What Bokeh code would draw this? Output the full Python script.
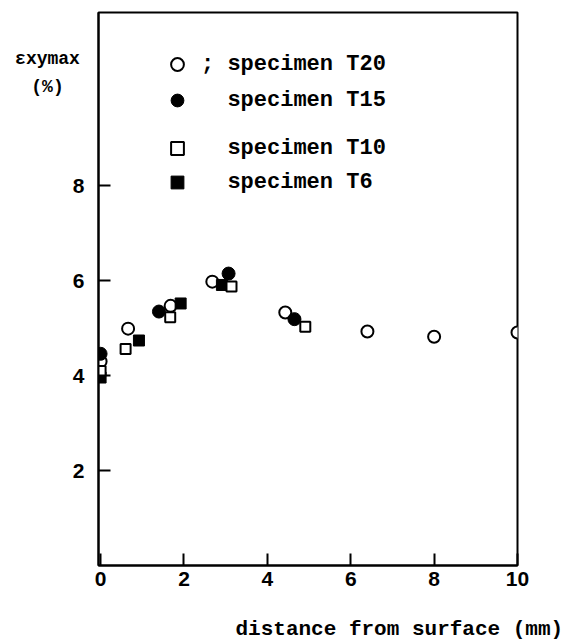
from bokeh.plotting import figure
from bokeh.models import Label, Legend, LegendItem, FixedTicker, Range1d
from bokeh.embed import file_html
from bokeh.resources import INLINE

# ---- data ----
t20_x = [0.0, 0.66, 1.68, 2.68, 4.43, 6.40, 8.0, 10.0]
t20_y = [4.30, 4.99, 5.47, 5.98, 5.33, 4.93, 4.82, 4.91]
t15_x = [0.0, 1.40, 3.07, 4.65]
t15_y = [4.46, 5.35, 6.15, 5.19]
t10_x = [0.0, 0.60, 1.67, 3.14, 4.91]
t10_y = [4.10, 4.56, 5.23, 5.88, 5.03]
t6_x = [0.0, 0.92, 1.92, 2.91]
t6_y = [3.96, 4.74, 5.52, 5.91]

legend_labels = ["; specimen T20", "\u00a0\u00a0specimen T15",
                 "\u00a0\u00a0specimen T10", "\u00a0\u00a0specimen T6"]
x_ticks = [0, 2, 4, 6, 8, 10]
y_ticks = [2, 4, 6, 8]
x_title = "distance from surface (mm)"
y_title = "\u03b5xymax\n(%)"

MONO = "Liberation Mono"

p = figure(width=567, height=640, output_backend="svg", toolbar_location=None,
           x_range=Range1d(-0.05, 10.0), y_range=Range1d(0, 11.65),
           min_border_left=98, min_border_right=50, min_border_top=12,
           min_border_bottom=75)
p.title.visible = False
p.xgrid.visible = False
p.ygrid.visible = False
p.outline_line_color = "black"
p.outline_line_width = 2
p.background_fill_color = "white"
p.border_fill_color = "white"

for ax, ticks, standoff in ((p.xaxis[0], x_ticks, 6), (p.yaxis[0], y_ticks, 14)):
    ax.ticker = FixedTicker(ticks=ticks, minor_ticks=[])
    ax.axis_line_width = 2
    ax.axis_line_color = "black"
    ax.major_tick_line_width = 2
    ax.major_tick_line_color = "black"
    ax.major_tick_in = 12
    ax.major_tick_out = 0
    ax.minor_tick_line_color = None
    ax.major_label_text_font = "Liberation Sans"
    ax.major_label_text_font_style = "bold"
    ax.major_label_text_font_size = "21px"
    ax.major_label_text_color = "black"
    ax.major_label_standoff = standoff

r20 = p.scatter(t20_x, t20_y, marker="circle", size=12, fill_color="white",
                line_color="black", line_width=2)
r15 = p.scatter(t15_x, t15_y, marker="circle", size=13, fill_color="black",
                line_color="black", line_width=1)
r6 = p.scatter(t6_x, t6_y, marker="square", size=11, fill_color="black",
               line_color="black", line_width=1)
r10 = p.scatter(t10_x, t10_y, marker="square", size=10, fill_color="white",
                line_color="black", line_width=2)

renderers = [r20, r15, r10, r6]
row_bottoms = [485, 449, 401, 367]
for lab, r, yb in zip(legend_labels, renderers, row_bottoms):
    lg = Legend(items=[LegendItem(label=lab, renderers=[r])],
                location=(63, yb), glyph_width=32, glyph_height=32,
                label_height=32, padding=0, margin=0, spacing=0,
                label_standoff=8, border_line_alpha=0,
                background_fill_alpha=0, label_text_font=MONO,
                label_text_font_style="bold", label_text_font_size="22px",
                label_text_color="black")
    p.add_layout(lg)

# x-axis title in the panel below the axis (side panels are not clipped)
p.add_layout(Label(x=137, y=-18, x_units="screen", y_units="screen",
                   text=x_title, text_font=MONO, text_font_style="bold",
                   text_font_size="21px", text_color="black",
                   text_baseline="alphabetic"), "below")

# y-axis label, two lines, left of the frame near its top
p.add_layout(Label(x=43, y=517, x_units="screen", y_units="screen",
                   text=y_title, text_font=MONO, text_font_style="bold",
                   text_font_size="18px", text_color="black",
                   text_align="center", text_baseline="top",
                   text_line_height=1.42), "left")

open("out.html", "w").write(file_html(p, INLINE))
